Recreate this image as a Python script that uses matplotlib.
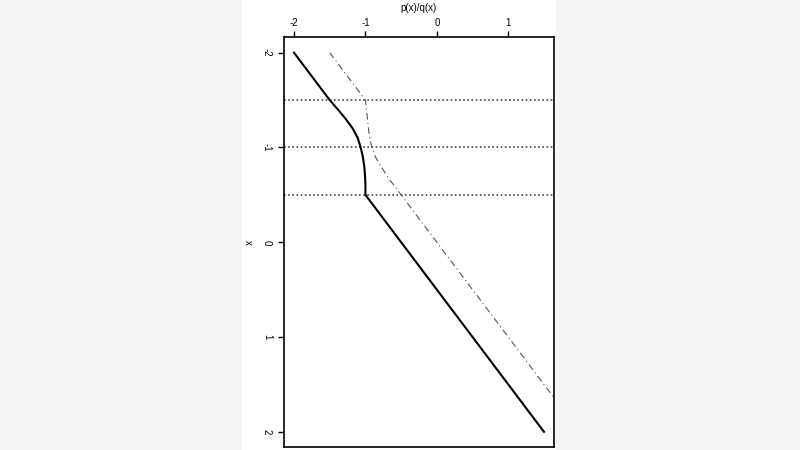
import matplotlib
matplotlib.use("Agg")
import matplotlib.pyplot as plt
from matplotlib.patches import Rectangle

# data (x on vertical axis, p(x)/q(x) on horizontal axis)
x_vals = [-2.0, -1.5, -1.4, -1.3, -1.2, -1.1, -1.0, -0.9, -0.8, -0.7, -0.6, -0.5, 2.0]
solid_vals = [-2.0, -1.5, -1.385, -1.275, -1.178, -1.108, -1.066, -1.036, -1.016, -1.005, -1.0, -1.0, 1.5]
dashed_vals = [-1.5, -1.0, -0.985, -0.972, -0.958, -0.94, -0.91, -0.86, -0.78, -0.70, -0.60, -0.5, 2.0]
hlines_x = [-1.5, -1.0, -0.5]
x_ticks = [-2, -1, 0, 1, 2]
pq_ticks = [-2, -1, 0, 1]

plt.rcParams['font.family'] = ['Liberation Sans', 'DejaVu Sans']

fig = plt.figure(figsize=(8, 4.5), dpi=100, facecolor='#f5f5f5')
# white page column behind the plot
fig.patches.append(Rectangle((242 / 800, 0), (556 - 242) / 800, 1, transform=fig.transFigure,
                             facecolor='white', edgecolor='none', zorder=-10))

ax = fig.add_axes([284 / 800, 1 - 447 / 450, (554 - 284) / 800, (447 - 37.5) / 450])
ax.set_zorder(5)
ax.set_facecolor('white')

for hx in hlines_x:
    ax.axhline(hx, color='#444444', lw=1.2, linestyle=(0, (1, 1.5)), zorder=1)

ax.plot(solid_vals, x_vals, color='black', lw=1.5, solid_joinstyle='round', zorder=3)
ax.plot(dashed_vals, x_vals, color='#555555', lw=0.8, linestyle=(0, (6, 3, 1, 3)), zorder=2)

ax.set_xlim(-2.14, 1.64)
ax.set_ylim(2.16, -2.16)

ax.xaxis.set_ticks_position('top')
ax.xaxis.set_label_position('top')
ax.set_xticks(pq_ticks)
ax.set_xticklabels([str(t) for t in pq_ticks])
ax.set_yticks(x_ticks)
ax.set_yticklabels([str(t) for t in x_ticks], rotation=-90, va='center')

ax.tick_params(axis='both', direction='out', length=4.3, width=1, color='black',
               labelsize=7, pad=2.5)
ax.tick_params(axis='y', pad=4.3)

ax.set_xlabel('p(x)/q(x)', fontsize=7, labelpad=5)
ax.set_ylabel('x', fontsize=7, rotation=-90, va='center', labelpad=10)

for sp in ax.spines.values():
    sp.set_linewidth(1.2)
    sp.set_color('black')

fig.savefig('out.png', dpi=100, facecolor=fig.get_facecolor())
